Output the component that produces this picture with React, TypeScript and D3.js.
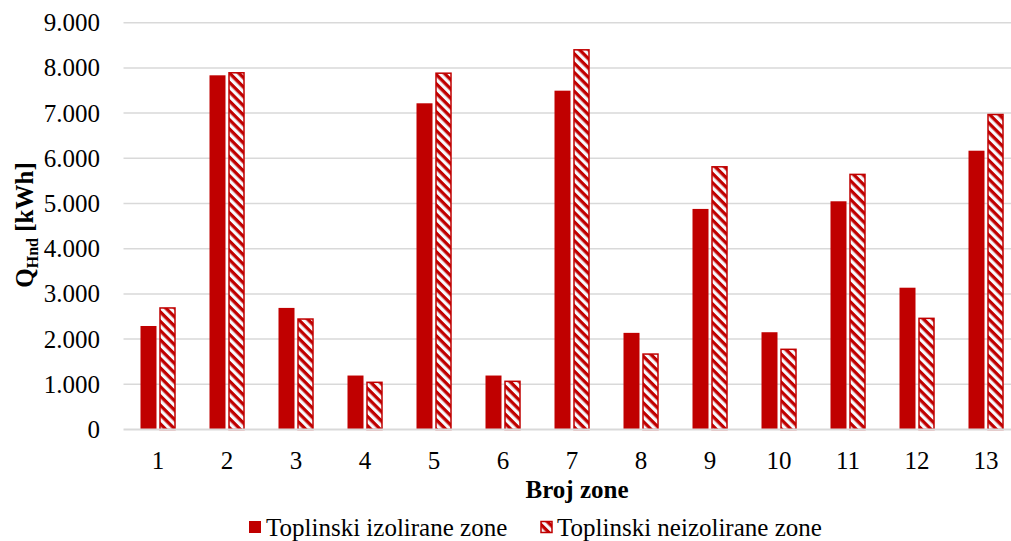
import React from "react";
import * as d3 from "d3";

const categories = ["1","2","3","4","5","6","7","8","9","10","11","12","13"];
const izolirane = [2290, 7836, 2690, 1194, 7217, 1194, 7496, 2138, 4880, 2152, 5049, 3137, 6168];
const neizolirane = [2700, 7903, 2455, 1055, 7894, 1077, 8411, 1680, 5823, 1785, 5655, 2470, 6980];
const yTicks = [0, 1000, 2000, 3000, 4000, 5000, 6000, 7000, 8000, 9000];
const seriesNames = ["Toplinski izolirane zone", "Toplinski neizolirane zone"];

const W = 1011, H = 541;
const RED = "#C00000";
const FONT = "Liberation Serif";

export default function App() {
  const x = d3.scaleBand<string>().domain(categories).range([123.5, 1020.5]).paddingInner(0).paddingOuter(0);
  const y = d3.scaleLinear().domain([0, 9000]).range([429.5, 22.7]);
  const bw = x.bandwidth();
  const barW = 16;
  const gap = 3;
  const fmt = (v: number) => v === 0 ? "0" : d3.format(",")(v).replace(/,/g, ".");

  return (
    <svg width={W} height={H} style={{ position: "absolute", left: 0, top: 0, display: "block" }}>
      <defs>
        <pattern id="hatch" patternUnits="userSpaceOnUse" width="6.6" height="6.6" patternTransform="rotate(45)">
          <rect x="0" y="0" width="6.6" height="6.6" fill="#f7f9fc" />
          <rect x="0" y="0" width="6.6" height="3.3" fill={RED} />
        </pattern>
      </defs>
      <rect width={W} height={H} fill="#fff" />
      {yTicks.map((t) => (
        <g key={t}>
          {t !== 0 && <line x1={123.5} x2={W} y1={y(t)} y2={y(t)} stroke="#d9d9d9" strokeWidth={1.5} />}
          <text x={100} y={y(t)} dy="0.34em" textAnchor="end" fontFamily={FONT} fontSize={25} fill="#000">{fmt(t)}</text>
        </g>
      ))}
      {categories.map((c, i) => {
        const cx = (x(c) as number) + bw / 2;
        return (
          <g key={c}>
            <rect x={cx - gap / 2 - barW} y={y(izolirane[i])} width={barW} height={y(0) - y(izolirane[i])} fill={RED} />
            <rect x={cx + gap / 2 + 0.5} y={y(neizolirane[i]) + 0.5} width={barW - 1} height={y(0) - y(neizolirane[i]) - 0.5} fill="url(#hatch)" stroke={RED} strokeWidth={1.5} />
            <text x={cx} y={469} textAnchor="middle" fontFamily={FONT} fontSize={25} fill="#000">{c}</text>
          </g>
        );
      })}
      <line x1={123.5} x2={W} y1={y(0)} y2={y(0)} stroke="#d9d9d9" strokeWidth={2} />
      <text x={577} y={498} textAnchor="middle" fontFamily={FONT} fontSize={25} fontWeight="bold" fill="#000">Broj zone</text>
      <text transform={`translate(33, 225) rotate(-90)`} textAnchor="middle" fontFamily={FONT} fontSize={25} fontWeight="bold" fill="#000">
        Q<tspan fontSize={16} dy={5}>Hnd</tspan><tspan dy={-5}> [kWh]</tspan>
      </text>
      <g>
        <rect x={249} y={521} width={12} height={12} fill={RED} />
        <text x={266} y={536} fontFamily={FONT} fontSize={25} fill="#000">{seriesNames[0]}</text>
        <rect x={541} y={521.5} width={11} height={11} fill="url(#hatch)" stroke={RED} strokeWidth={1.5} />
        <text x={557} y={536} fontFamily={FONT} fontSize={25} fill="#000">{seriesNames[1]}</text>
      </g>
    </svg>
  );
}
